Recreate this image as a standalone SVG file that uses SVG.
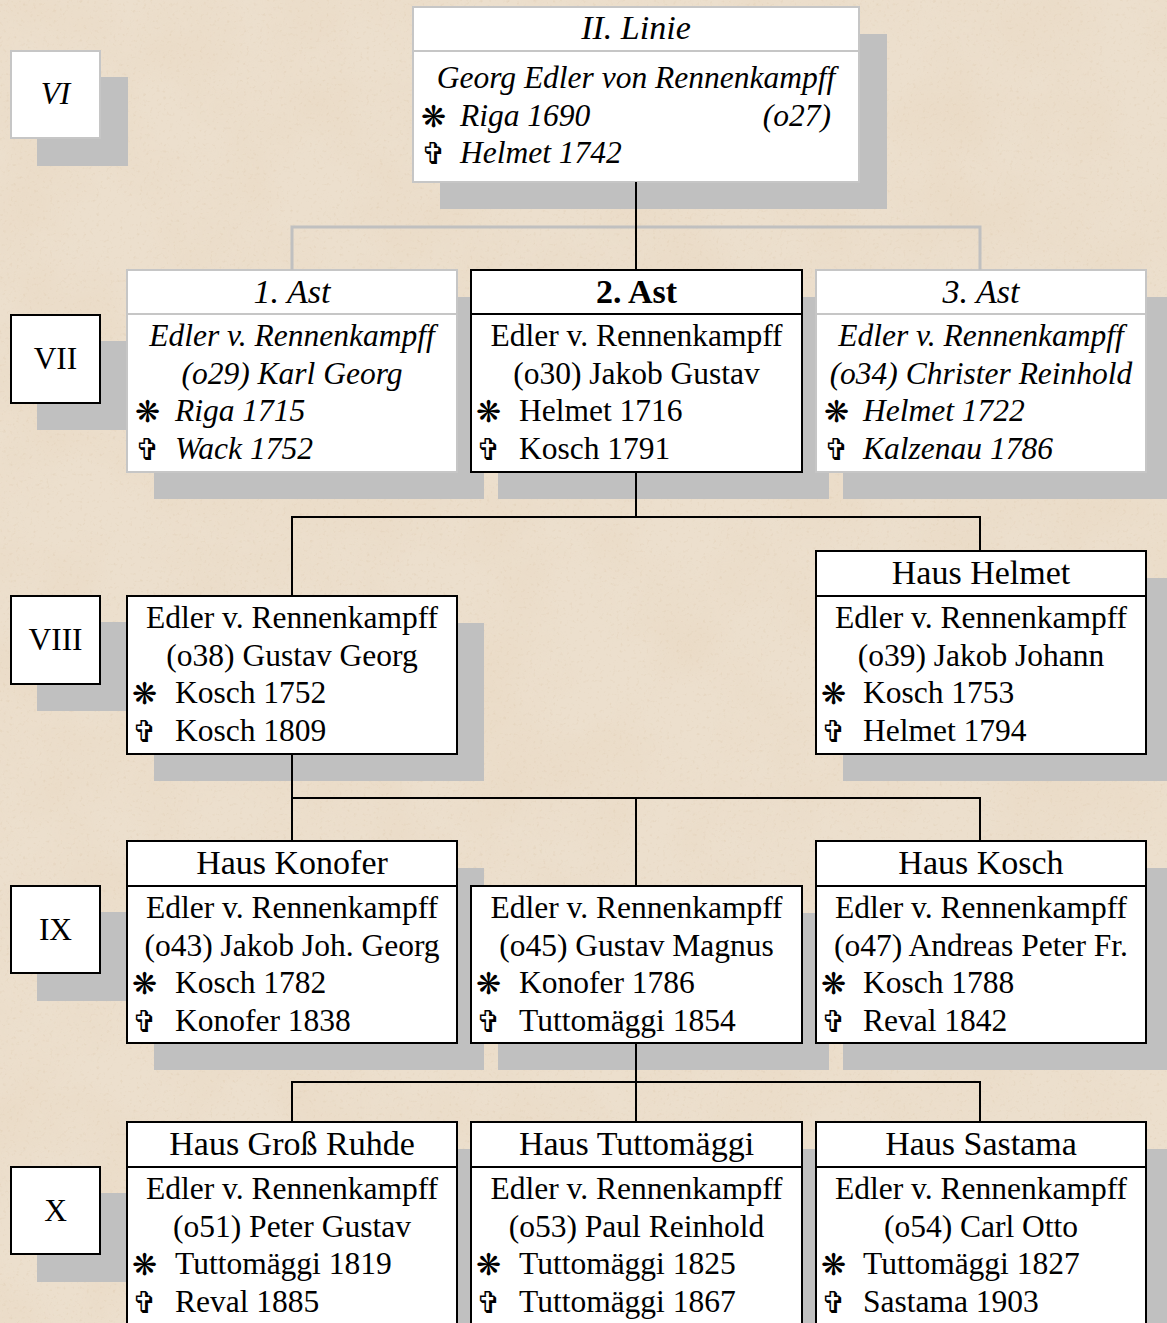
<svg xmlns="http://www.w3.org/2000/svg" width="1167" height="1323" viewBox="0 0 1167 1323">
<defs>
<filter id="paper" x="0" y="0" width="100%" height="100%" filterUnits="userSpaceOnUse">
<feTurbulence type="fractalNoise" baseFrequency="0.011" numOctaves="4" seed="7" result="n"/>
<feColorMatrix in="n" type="matrix" values="0 0 0 0 0.80  0 0 0 0 0.66  0 0 0 0 0.50  1.6 0 0 0 -0.6"/>
</filter>
<filter id="speck" x="0" y="0" width="100%" height="100%" filterUnits="userSpaceOnUse">
<feTurbulence type="fractalNoise" baseFrequency="0.3" numOctaves="2" seed="2" result="n"/>
<feColorMatrix in="n" type="matrix" values="0 0 0 0 0.72  0 0 0 0 0.58  0 0 0 0 0.42  3 0 0 0 -1.8"/>
</filter>
</defs>
<style>
.bg{fill:#ECDFCD}
.sh{fill:#C0C0C0}
.nb{fill:#FFFFFF;stroke:#000000;stroke-width:2}
.ng{fill:#FFFFFF;stroke:#C6C6C6;stroke-width:2}
.db{stroke:#000000;stroke-width:2}
.dg{stroke:#C6C6C6;stroke-width:2}
.t{font-family:"Liberation Serif","Times New Roman",serif;font-size:31.5px;fill:#000000}
.h{font-size:34px}
.i{font-style:italic}
.b{font-weight:bold}
.c{text-anchor:middle}
.e{text-anchor:end}
.s{font-family:"DejaVu Sans",sans-serif;font-size:30px;fill:#000000}
.cb{fill:none;stroke:#000000;stroke-width:2}
.cg{fill:none;stroke:#C0C0C0;stroke-width:3}
</style>
<rect class="bg" x="0" y="0" width="1167" height="1323"/>
<rect x="0" y="0" width="1167" height="1323" filter="url(#paper)" opacity="0.45"/>
<rect x="0" y="0" width="1167" height="1323" filter="url(#speck)" opacity="0.45"/>

<g id="level-VI">
<rect class="sh" x="37" y="77" width="91" height="89"/>
<rect class="ng" x="11" y="51" width="89" height="87"/>
<text class="t i c" x="55.5" y="104">VI</text>
</g>
<g id="level-VII">
<rect class="sh" x="37" y="341" width="91" height="89"/>
<rect class="nb" x="11" y="315" width="89" height="88"/>
<text class="t c" x="55.5" y="369">VII</text>
</g>
<g id="level-VIII">
<rect class="sh" x="37" y="622" width="91" height="89"/>
<rect class="nb" x="11" y="596" width="89" height="88"/>
<text class="t c" x="55.5" y="650">VIII</text>
</g>
<g id="level-IX">
<rect class="sh" x="37" y="912" width="91" height="89"/>
<rect class="nb" x="11" y="886" width="89" height="87"/>
<text class="t c" x="55.5" y="940">IX</text>
</g>
<g id="level-X">
<rect class="sh" x="37" y="1193" width="91" height="89"/>
<rect class="nb" x="11" y="1167" width="89" height="87"/>
<text class="t c" x="55.5" y="1221">X</text>
</g>

<g id="node-linie">
<rect class="sh" x="440" y="34" width="447" height="175"/>
<rect class="ng" x="413" y="7" width="446" height="175"/>
<line class="dg" x1="413" y1="51" x2="859" y2="51"/>
<text class="t h i c" x="636" y="39">II. Linie</text>
<text class="t i c" x="636" y="88">Georg Edler von Rennenkampff</text>
<text class="s" x="421" y="127">❋</text>
<text class="t i" x="460" y="126">Riga 1690</text>
<text class="t i e" x="831" y="126">(o27)</text>
<text class="s" x="421" y="164">✞</text>
<text class="t i" x="460" y="163">Helmet 1742</text>
</g>

<g id="node-ast1">
<rect class="sh" x="154" y="297" width="330" height="202"/>
<rect class="ng" x="127" y="270" width="330" height="202"/>
<line class="dg" x1="127" y1="314" x2="457" y2="314"/>
<text class="t h i c" x="292" y="303">1. Ast</text>
<text class="t i c" x="292" y="346">Edler v. Rennenkampff</text>
<text class="t i c" x="292" y="384">(o29) Karl Georg</text>
<text class="s" x="135" y="422">❋</text>
<text class="t i" x="175" y="421">Riga 1715</text>
<text class="s" x="135" y="460">✞</text>
<text class="t i" x="175" y="459">Wack 1752</text>
</g>

<g id="node-ast2">
<rect class="sh" x="498" y="297" width="331" height="202"/>
<rect class="nb" x="471" y="270" width="331" height="202"/>
<line class="db" x1="471" y1="314" x2="802" y2="314"/>
<text class="t h b c" x="636.5" y="303">2. Ast</text>
<text class="t c" x="636.5" y="346">Edler v. Rennenkampff</text>
<text class="t c" x="636.5" y="384">(o30) Jakob Gustav</text>
<text class="s" x="476" y="422">❋</text>
<text class="t" x="519" y="421">Helmet 1716</text>
<text class="s" x="476" y="460">✞</text>
<text class="t" x="519" y="459">Kosch 1791</text>
</g>

<g id="node-ast3">
<rect class="sh" x="843" y="297" width="330" height="202"/>
<rect class="ng" x="816" y="270" width="330" height="202"/>
<line class="dg" x1="816" y1="314" x2="1146" y2="314"/>
<text class="t h i c" x="981" y="303">3. Ast</text>
<text class="t i c" x="981" y="346">Edler v. Rennenkampff</text>
<text class="t i c" x="981" y="384">(o34) Christer Reinhold</text>
<text class="s" x="824" y="422">❋</text>
<text class="t i" x="863" y="421">Helmet 1722</text>
<text class="s" x="824" y="460">✞</text>
<text class="t i" x="863" y="459">Kalzenau 1786</text>
</g>

<g id="node-o38">
<rect class="sh" x="154" y="623" width="330" height="158"/>
<rect class="nb" x="127" y="596" width="330" height="158"/>
<text class="t c" x="292" y="628">Edler v. Rennenkampff</text>
<text class="t c" x="292" y="665.5">(o38) Gustav Georg</text>
<text class="s" x="132" y="704">❋</text>
<text class="t" x="175" y="703">Kosch 1752</text>
<text class="s" x="132" y="741.5">✞</text>
<text class="t" x="175" y="740.5">Kosch 1809</text>
</g>

<g id="node-helmet">
<rect class="sh" x="843" y="578" width="330" height="203"/>
<rect class="nb" x="816" y="551" width="330" height="203"/>
<line class="db" x1="816" y1="596" x2="1146" y2="596"/>
<text class="t h c" x="981" y="584">Haus Helmet</text>
<text class="t c" x="981" y="628">Edler v. Rennenkampff</text>
<text class="t c" x="981" y="665.5">(o39) Jakob Johann</text>
<text class="s" x="821" y="704">❋</text>
<text class="t" x="863" y="703">Kosch 1753</text>
<text class="s" x="821" y="741.5">✞</text>
<text class="t" x="863" y="740.5">Helmet 1794</text>
</g>

<g id="node-konofer">
<rect class="sh" x="154" y="868" width="330" height="202"/>
<rect class="nb" x="127" y="841" width="330" height="202"/>
<line class="db" x1="127" y1="886" x2="457" y2="886"/>
<text class="t h c" x="292" y="874">Haus Konofer</text>
<text class="t c" x="292" y="918">Edler v. Rennenkampff</text>
<text class="t c" x="292" y="955.5">(o43) Jakob Joh. Georg</text>
<text class="s" x="132" y="994">❋</text>
<text class="t" x="175" y="993">Kosch 1782</text>
<text class="s" x="132" y="1031.5">✞</text>
<text class="t" x="175" y="1030.5">Konofer 1838</text>
</g>

<g id="node-o45">
<rect class="sh" x="498" y="913" width="331" height="157"/>
<rect class="nb" x="471" y="886" width="331" height="157"/>
<text class="t c" x="636.5" y="918">Edler v. Rennenkampff</text>
<text class="t c" x="636.5" y="955.5">(o45) Gustav Magnus</text>
<text class="s" x="476" y="994">❋</text>
<text class="t" x="519" y="993">Konofer 1786</text>
<text class="s" x="476" y="1031.5">✞</text>
<text class="t" x="519" y="1030.5">Tuttomäggi 1854</text>
</g>

<g id="node-kosch">
<rect class="sh" x="843" y="868" width="330" height="202"/>
<rect class="nb" x="816" y="841" width="330" height="202"/>
<line class="db" x1="816" y1="886" x2="1146" y2="886"/>
<text class="t h c" x="981" y="874">Haus Kosch</text>
<text class="t c" x="981" y="918">Edler v. Rennenkampff</text>
<text class="t c" x="981" y="955.5">(o47) Andreas Peter Fr.</text>
<text class="s" x="821" y="994">❋</text>
<text class="t" x="863" y="993">Kosch 1788</text>
<text class="s" x="821" y="1031.5">✞</text>
<text class="t" x="863" y="1030.5">Reval 1842</text>
</g>

<g id="node-gross-ruhde">
<rect class="sh" x="154" y="1149" width="330" height="203"/>
<rect class="nb" x="127" y="1122" width="330" height="203"/>
<line class="db" x1="127" y1="1167" x2="457" y2="1167"/>
<text class="t h c" x="292" y="1155">Haus Groß Ruhde</text>
<text class="t c" x="292" y="1199">Edler v. Rennenkampff</text>
<text class="t c" x="292" y="1236.5">(o51) Peter Gustav</text>
<text class="s" x="132" y="1275">❋</text>
<text class="t" x="175" y="1274">Tuttomäggi 1819</text>
<text class="s" x="132" y="1312.5">✞</text>
<text class="t" x="175" y="1311.5">Reval 1885</text>
</g>

<g id="node-tuttomaeggi">
<rect class="sh" x="498" y="1149" width="331" height="203"/>
<rect class="nb" x="471" y="1122" width="331" height="203"/>
<line class="db" x1="471" y1="1167" x2="802" y2="1167"/>
<text class="t h c" x="636.5" y="1155">Haus Tuttomäggi</text>
<text class="t c" x="636.5" y="1199">Edler v. Rennenkampff</text>
<text class="t c" x="636.5" y="1236.5">(o53) Paul Reinhold</text>
<text class="s" x="476" y="1275">❋</text>
<text class="t" x="519" y="1274">Tuttomäggi 1825</text>
<text class="s" x="476" y="1312.5">✞</text>
<text class="t" x="519" y="1311.5">Tuttomäggi 1867</text>
</g>

<g id="node-sastama">
<rect class="sh" x="843" y="1149" width="330" height="203"/>
<rect class="nb" x="816" y="1122" width="330" height="203"/>
<line class="db" x1="816" y1="1167" x2="1146" y2="1167"/>
<text class="t h c" x="981" y="1155">Haus Sastama</text>
<text class="t c" x="981" y="1199">Edler v. Rennenkampff</text>
<text class="t c" x="981" y="1236.5">(o54) Carl Otto</text>
<text class="s" x="821" y="1275">❋</text>
<text class="t" x="863" y="1274">Tuttomäggi 1827</text>
<text class="s" x="821" y="1312.5">✞</text>
<text class="t" x="863" y="1311.5">Sastama 1903</text>
</g>

<g id="connectors">
<path class="cg" d="M292 270 V227 H980 V270"/>
<path class="cb" d="M636 182 V270"/>
<path class="cb" d="M636 472 V517 M292 596 V517 H980 V551"/>
<path class="cb" d="M292 754 V798 M292 841 V798 H980 V841 M636 798 V886"/>
<path class="cb" d="M636 1043 V1082 M292 1122 V1082 H980 V1122 M636 1082 V1122"/>
</g>
</svg>
